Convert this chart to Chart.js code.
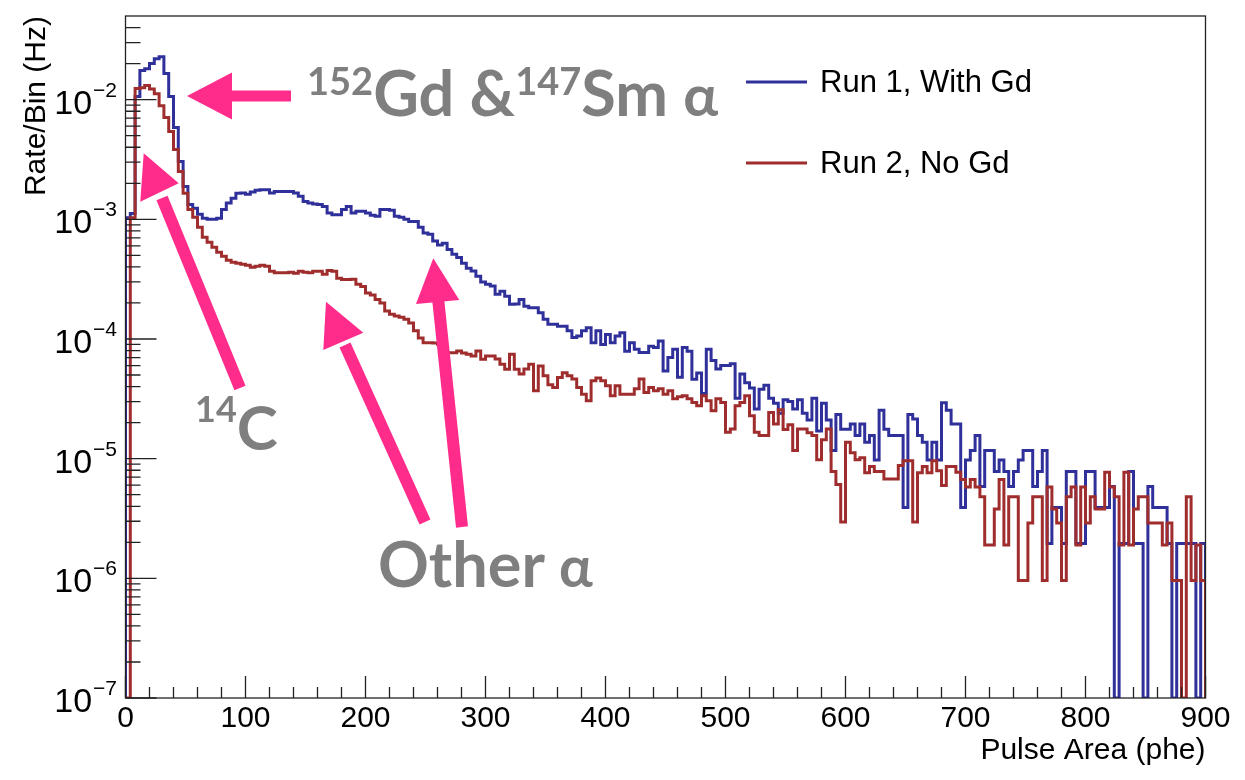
<!DOCTYPE html>
<html>
<head>
<meta charset="utf-8">
<title>Pulse area spectrum, Run 1 vs Run 2</title>
<script src="https://cdn.jsdelivr.net/npm/chart.js@4.4.0/dist/chart.umd.min.js"></script>
<style>
  html, body { margin: 0; padding: 0; background: #fff; }
  #wrap { position: relative; width: 1245px; height: 780px; }
  #chart { position: absolute; left: 0; top: 0; }
  #notes { position: absolute; left: 0; top: 0; pointer-events: none; }
</style>
</head>
<body>
<div id="wrap">
  <canvas id="chart" width="1245" height="780"></canvas>
  <svg id="notes" width="1245" height="780" viewBox="0 0 1245 780">
    <!-- legend -->
    <line x1="746" y1="82" x2="807" y2="82" stroke="#30309b" stroke-width="3"/>
    <text x="820" y="92" font-family="'Liberation Sans', Arial, sans-serif" font-size="31" fill="#000">Run 1, With Gd</text>
    <line x1="746" y1="163" x2="807" y2="163" stroke="#a02d2d" stroke-width="3"/>
    <text x="820" y="173" font-family="'Liberation Sans', Arial, sans-serif" font-size="31" fill="#000">Run 2, No Gd</text>

    <!-- pink arrows -->
    <g fill="#ff2c8b" stroke="#ff2c8b">
      <line x1="291" y1="96" x2="228" y2="96" stroke-width="11"/>
      <polygon stroke="none" points="187,96 232,72.5 232,119.5"/>

      <line x1="240" y1="388" x2="162" y2="198" stroke-width="12"/>
      <polygon stroke="none" points="143.7,153.3 140.3,201.7 178.7,183.3"/>

      <line x1="425" y1="522" x2="345" y2="345" stroke-width="12"/>
      <polygon stroke="none" points="326,301.7 323.3,350 363.3,332.7"/>

      <line x1="462" y1="527" x2="438" y2="298" stroke-width="12"/>
      <polygon stroke="none" points="433.3,258.3 416,304 459.3,300"/>
    </g>

    <!-- gray labels -->
    <g fill="#7f7f7f" font-family="Lato, 'Open Sans', sans-serif" font-weight="700">
      <text x="307" y="116"><tspan font-size="38" dy="-21">152</tspan><tspan font-size="63" dy="21">Gd &amp;</tspan><tspan font-size="38" dy="-21">147</tspan><tspan font-size="63" dy="21">Sm </tspan><tspan font-size="58">α</tspan></text>
      <text x="195" y="450"><tspan font-size="36" dy="-28">14</tspan><tspan font-size="62" dy="28">C</tspan></text>
      <text x="378" y="587" font-size="63">Other <tspan font-size="56">α</tspan></text>
    </g>
  </svg>
</div>
<script>
// histogram binning (phe)
const binWidth = 4;
const xMax = 900;
const yMin = 1e-7;
const yMax = 0.05;
const yTickExps = [-7, -6, -5, -4, -3, -2];

// Run 1, With Gd -- rate per bin (Hz), 225 bins of 4 phe
const run1WithGd = [
  1.03e-3, 1.12e-3, 1.06e-2, 1.75e-2, 1.81e-2, 2.0e-2, 2.2e-2, 2.28e-2, 1.65e-2, 1.06e-2,
  5.85e-3, 3.04e-3, 1.88e-3, 1.33e-3, 1.24e-3, 1.10e-3, 1.02e-3, 1.0e-3, 1.0e-3, 1.02e-3,
  1.21e-3, 1.37e-3, 1.50e-3, 1.65e-3, 1.66e-3, 1.62e-3, 1.69e-3, 1.75e-3, 1.77e-3, 1.77e-3,
  1.66e-3, 1.71e-3, 1.71e-3, 1.71e-3, 1.71e-3, 1.66e-3, 1.56e-3, 1.41e-3, 1.37e-3, 1.34e-3,
  1.33e-3, 1.28e-3, 1.13e-3, 1.09e-3, 1.09e-3, 1.21e-3, 1.28e-3, 1.13e-3, 1.17e-3, 1.17e-3,
  1.13e-3, 1.08e-3, 1.06e-3, 1.21e-3, 1.21e-3, 1.19e-3, 1.06e-3, 1.04e-3, 1.0e-3, 9.6e-4,
  9.6e-4, 8.6e-4, 7.7e-4, 7.5e-4, 6.6e-4, 6.1e-4, 6.3e-4, 5.6e-4, 5.1e-4, 4.8e-4,
  4.3e-4, 3.9e-4, 3.7e-4, 3.35e-4, 3.0e-4, 2.86e-4, 2.77e-4, 2.36e-4, 2.51e-4, 2.28e-4,
  1.95e-4, 1.96e-4, 2.14e-4, 1.88e-4, 1.82e-4, 1.82e-4, 1.66e-4, 1.46e-4, 1.33e-4, 1.33e-4,
  1.28e-4, 1.28e-4, 1.17e-4, 1.03e-4, 1.06e-4, 1.17e-4, 1.24e-4, 9.3e-5, 1.17e-4, 9.0e-5,
  1.09e-4, 9.3e-5, 1.06e-4, 1.13e-4, 7.9e-5, 9.3e-5, 8.2e-5, 7.7e-5, 7.7e-5, 8.7e-5,
  8.5e-5, 9.6e-5, 5.4e-5, 7.0e-5, 8.2e-5, 4.8e-5, 8.5e-5, 7.9e-5, 4.6e-5, 5.2e-5,
  3.5e-5, 8.2e-5, 6.6e-5, 5.6e-5, 6.0e-5, 6.0e-5, 6.2e-5, 3.2e-5, 5.1e-5, 4.3e-5,
  3.9e-5, 2.6e-5, 3.8e-5, 4.1e-5, 3.2e-5, 2.9e-5, 2.4e-5, 3.1e-5, 3.0e-5, 2.6e-5,
  3.1e-5, 2.4e-5, 2.1e-5, 3.2e-5, 1.7e-5, 2.9e-5, 2.1e-5, 1.17e-5, 2.34e-5, 1.76e-5,
  1.76e-5, 1.95e-5, 1.56e-5, 1.95e-5, 1.37e-5, 1.56e-5, 9.75e-6, 2.54e-5, 1.76e-5, 1.56e-5,
  1.56e-5, 1.56e-5, 3.9e-6, 2.34e-5, 2.15e-5, 1.56e-5, 1.37e-5, 9.75e-6, 1.37e-5, 9.75e-6,
  2.93e-5, 2.54e-5, 1.95e-5, 1.95e-5, 3.9e-6, 9.75e-6, 1.17e-5, 1.56e-5, 5.85e-6, 1.17e-5,
  1.17e-5, 7.8e-6, 9.75e-6, 7.8e-6, 5.85e-6, 7.8e-6, 9.75e-6, 1.17e-5, 1.17e-5, 5.85e-6,
  7.8e-6, 1.17e-5, 1.95e-6, 3.9e-6, 3.9e-6, 1.95e-6, 7.8e-6, 7.8e-6, 1.95e-6, 1.95e-6,
  7.8e-6, 7.8e-6, 3.9e-6, 3.9e-6, 3.9e-6, 5.85e-6, 0, 1.95e-6, 1.95e-6, 7.8e-6,
  1.95e-6, 1.95e-6, 0, 5.85e-6, 3.9e-6, 3.9e-6, 3.9e-6, 1.95e-6, 0, 1.95e-6,
  1.95e-6, 1.95e-6, 1.95e-6, 0, 1.95e-6
];

// Run 2, No Gd -- rate per bin (Hz)
const run2NoGd = [
  0, 1.03e-3, 1.24e-2, 1.26e-2, 1.31e-2, 1.23e-2, 1.12e-2, 8.9e-3, 7.08e-3, 5.41e-3,
  3.83e-3, 2.51e-3, 1.65e-3, 1.21e-3, 1.04e-3, 8.6e-4, 7.08e-4, 6.43e-4, 5.85e-4, 5.31e-4,
  4.92e-4, 4.55e-4, 4.38e-4, 4.3e-4, 4.22e-4, 4.14e-4, 3.98e-4, 4.06e-4, 4.14e-4, 4.06e-4,
  3.69e-4, 3.57e-4, 3.57e-4, 3.57e-4, 3.62e-4, 3.55e-4, 3.69e-4, 3.62e-4, 3.57e-4, 3.69e-4,
  3.69e-4, 3.48e-4, 3.74e-4, 3.69e-4, 3.22e-4, 3.14e-4, 3.14e-4, 3.16e-4, 2.87e-4, 2.74e-4,
  2.42e-4, 2.33e-4, 2.14e-4, 2.0e-4, 1.71e-4, 1.61e-4, 1.56e-4, 1.52e-4, 1.46e-4, 1.36e-4,
  1.17e-4, 1.02e-4, 9.3e-5, 9.3e-5, 9.26e-5, 9.03e-5, 8.21e-5, 7.69e-5, 7.69e-5, 7.94e-5,
  7.65e-5, 7.46e-5, 7.22e-5, 7.94e-5, 6.77e-5, 7.22e-5, 7.22e-5, 6.81e-5, 6.15e-5, 5.59e-5,
  7.46e-5, 5.59e-5, 5.11e-5, 5.62e-5, 6.15e-5, 3.69e-5, 5.96e-5, 4.92e-5, 4.14e-5, 3.93e-5,
  4.76e-5, 5.21e-5, 4.92e-5, 4.62e-5, 3.93e-5, 3.46e-5, 3.04e-5, 4.47e-5, 4.73e-5, 4.47e-5,
  4.06e-5, 3.35e-5, 4.06e-5, 3.46e-5, 3.46e-5, 3.46e-5, 3.83e-5, 4.62e-5, 3.57e-5, 3.93e-5,
  3.69e-5, 3.83e-5, 3.46e-5, 3.69e-5, 3.16e-5, 3.29e-5, 3.35e-5, 3.16e-5, 2.95e-5, 2.77e-5,
  3.35e-5, 3.04e-5, 2.51e-5, 3.16e-5, 2.95e-5, 1.66e-5, 1.77e-5, 2.77e-5, 2.95e-5, 3.35e-5,
  2.28e-5, 1.66e-5, 1.56e-5, 1.56e-5, 2.43e-5, 1.95e-5, 2.56e-5, 1.75e-5, 1.92e-5, 1.17e-5,
  1.77e-5, 1.77e-5, 1.65e-5, 1.56e-5, 9.8e-6, 1.44e-5, 1.77e-5, 7.8e-6, 6.07e-6, 2.95e-6,
  1.37e-5, 1.12e-5, 9.8e-6, 1.02e-5, 7.64e-6, 8.58e-6, 7.8e-6, 7.8e-6, 6.77e-6, 6.77e-6,
  6.77e-6, 8.75e-6, 9.62e-6, 9.62e-6, 2.95e-6, 7.64e-6, 8.58e-6, 7.64e-6, 9.62e-6, 7.94e-6,
  5.96e-6, 8.58e-6, 8.6e-6, 7.7e-6, 6.7e-6, 5.8e-6, 6.7e-6, 5.8e-6, 4.8e-6, 1.9e-6,
  1.9e-6, 3.8e-6, 6.7e-6, 1.9e-6, 4.8e-6, 4.8e-6, 9.6e-7, 9.6e-7, 2.9e-6, 4.8e-6,
  4.8e-6, 9.6e-7, 5.8e-6, 3.8e-6, 2.9e-6, 9.6e-7, 4.8e-6, 5.8e-6, 1.9e-6, 5.8e-6,
  2.9e-6, 4.8e-6, 3.8e-6, 3.8e-6, 7.7e-6, 5.8e-6, 4.8e-6, 1.9e-6, 7.7e-6, 1.9e-6,
  3.8e-6, 4.8e-6, 4.8e-6, 2.9e-6, 2.9e-6, 2.9e-6, 1.9e-6, 2.9e-6, 9.6e-7, 9.6e-7,
  0, 4.8e-6, 9.6e-7, 1.9e-6, 9.6e-7
];

const blue = '#30309b';
const red = '#a02d2d';
const axisFont = "'Liberation Sans', Arial, Helvetica, sans-serif";

// ROOT-like histogram outline: starts and ends on the axis floor
function toSteps(values) {
  const pts = [{ x: 0, y: yMin }];
  values.forEach((v, i) => pts.push({ x: i * binWidth, y: v > 0 ? v : yMin }));
  const last = values[values.length - 1];
  pts.push({ x: xMax, y: last > 0 ? last : yMin });
  pts.push({ x: xMax, y: yMin });
  return pts;
}

// frame, inward ticks and 10^n labels
const rootFrame = {
  id: 'rootFrame',
  afterDatasetsDraw(chart) {
    const { ctx, chartArea: a, scales: { x, y } } = chart;
    ctx.save();
    ctx.strokeStyle = '#222';
    ctx.lineWidth = 1.3;
    ctx.beginPath();
    for (let v = 0; v <= xMax; v += 20) {
      const px = x.getPixelForValue(v);
      const len = v % 100 === 0 ? 22 : 11;
      ctx.moveTo(px, a.bottom);
      ctx.lineTo(px, a.bottom - len);
    }
    for (let e = -7; e <= -2; e++) {
      for (let m = 1; m <= 9; m++) {
        const v = m * Math.pow(10, e);
        if (v >= yMax) break;
        const py = y.getPixelForValue(v);
        const len = m === 1 ? 31 : 15;
        ctx.moveTo(a.left, py);
        ctx.lineTo(a.left + len, py);
      }
    }
    ctx.stroke();
    ctx.strokeRect(a.left, a.top, a.right - a.left, a.bottom - a.top);

    ctx.fillStyle = '#000';
    ctx.textAlign = 'left';
    ctx.textBaseline = 'alphabetic';
    yTickExps.forEach(e => {
      const py = y.getPixelForValue(Math.pow(10, e));
      const exp = '\u2212' + Math.abs(e);
      ctx.font = '21px ' + axisFont;
      const we = ctx.measureText(exp).width;
      ctx.font = '34px ' + axisFont;
      const wb = ctx.measureText('10').width;
      const right = 117;
      ctx.fillText('10', right - we - wb - 1, py + 14);
      ctx.font = '21px ' + axisFont;
      ctx.fillText(exp, right - we, py - 3);
    });
    ctx.restore();
  }
};

new Chart(document.getElementById('chart'), {
  type: 'line',
  data: {
    datasets: [
      {
        label: 'Run 2, No Gd',
        data: toSteps(run2NoGd),
        borderColor: red,
        borderWidth: 3,
        stepped: true,
        pointRadius: 0,
        fill: false,
        borderJoinStyle: 'miter',
        order: 0
      },
      {
        label: 'Run 1, With Gd',
        data: toSteps(run1WithGd),
        borderColor: blue,
        borderWidth: 3,
        stepped: true,
        pointRadius: 0,
        fill: false,
        borderJoinStyle: 'miter',
        order: 1
      }
    ]
  },
  options: {
    responsive: false,
    animation: false,
    layout: { padding: { top: 16, right: 39.5, left: 0, bottom: 0 } },
    plugins: {
      legend: { display: false },
      tooltip: { enabled: false }
    },
    scales: {
      x: {
        type: 'linear',
        min: 0,
        max: xMax,
        afterFit(scale) { scale.height = 82; },
        grid: { display: false, drawTicks: false },
        border: { display: false },
        ticks: {
          stepSize: 100,
          maxRotation: 0,
          autoSkip: false,
          padding: 3,
          color: '#000',
          font: { family: axisFont, size: 30 }
        },
        title: {
          display: true,
          text: 'Pulse Area (phe)',
          align: 'end',
          color: '#000',
          font: { family: axisFont, size: 30 },
          padding: { top: 0, bottom: 11 }
        }
      },
      y: {
        type: 'logarithmic',
        min: yMin,
        max: yMax,
        afterFit(scale) { scale.width = 125.5; },
        grid: { display: false, drawTicks: false },
        border: { display: false },
        ticks: { display: false },
        title: {
          display: true,
          text: 'Rate/Bin (Hz)',
          align: 'end',
          color: '#000',
          font: { family: axisFont, size: 30 },
          padding: { top: 19, bottom: 0 }
        }
      }
    }
  },
  plugins: [rootFrame]
});
</script>
</body>
</html>
